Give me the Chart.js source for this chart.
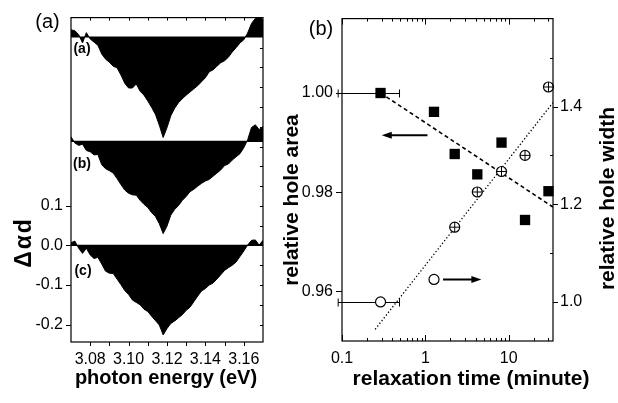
<!DOCTYPE html>
<html>
<head>
<meta charset="utf-8">
<script src="https://cdn.jsdelivr.net/npm/chart.js"></script>
<style>
    html, body { margin: 0; padding: 0; background: #fff; }
    #wrap { position: relative; width: 618px; height: 403px; overflow: hidden; }
    #spectra { position: absolute; left: 0; top: 0; }
    #relax { position: absolute; left: 275px; top: 0; }
</style>
</head>
<body>
<div id="wrap">
    <canvas id="spectra" width="275" height="403"></canvas>
    <canvas id="relax" width="343" height="403"></canvas>
</div>
<script>
// Panel (a): spectral holes, each trace relative to its own baseline.
var energy = [3.070, 3.072, 3.074, 3.076, 3.078, 3.080, 3.082, 3.084, 3.086, 3.088,
    3.090, 3.092, 3.094, 3.096, 3.098, 3.100, 3.102, 3.104, 3.106, 3.108,
    3.110, 3.112, 3.114, 3.116, 3.118, 3.120, 3.122, 3.124, 3.126, 3.128,
    3.130, 3.132, 3.134, 3.136, 3.138, 3.140, 3.142, 3.144, 3.146, 3.148,
    3.150, 3.152, 3.154, 3.156, 3.158, 3.160, 3.162, 3.164, 3.166, 3.168, 3.170];
var holeA = [0.018, 0.016, 0.006, -0.015, 0.011, -0.005, -0.013, -0.021, -0.043, -0.056,
    -0.064, -0.074, -0.078, -0.096, -0.117, -0.129, -0.129, -0.119, -0.137, -0.147,
    -0.162, -0.178, -0.196, -0.223, -0.254, -0.229, -0.199, -0.180, -0.166, -0.156,
    -0.147, -0.139, -0.131, -0.123, -0.113, -0.103, -0.088, -0.083, -0.074, -0.065,
    -0.060, -0.051, -0.038, -0.027, -0.015, -0.007, 0.010, 0.034, 0.047, 0.055, 0.042];
var holeB = [0.012, -0.004, -0.010, -0.007, -0.023, -0.026, -0.034, -0.033, -0.059, -0.069,
    -0.074, -0.080, -0.094, -0.109, -0.123, -0.131, -0.135, -0.136, -0.149, -0.159,
    -0.167, -0.180, -0.190, -0.208, -0.233, -0.214, -0.186, -0.172, -0.162, -0.149,
    -0.139, -0.127, -0.121, -0.113, -0.106, -0.100, -0.096, -0.088, -0.080, -0.072,
    -0.061, -0.057, -0.047, -0.039, -0.031, -0.016, 0.004, 0.035, 0.042, 0.030, 0.038];
var holeC = [0.007, 0.011, -0.007, -0.020, -0.007, -0.024, -0.033, -0.030, -0.047, -0.065,
    -0.070, -0.071, -0.085, -0.099, -0.114, -0.124, -0.138, -0.144, -0.150, -0.161,
    -0.167, -0.179, -0.190, -0.201, -0.226, -0.210, -0.197, -0.191, -0.183, -0.175,
    -0.164, -0.156, -0.142, -0.128, -0.115, -0.109, -0.100, -0.095, -0.085, -0.074,
    -0.063, -0.056, -0.050, -0.042, -0.028, -0.014, 0.001, 0.013, 0.014, 0.001, 0.013];
var traceOffsets = [0.527, 0.263, 0];
var traceNames = ['(a)', '(b)', '(c)'];
var energyLabels = ['3.08', '3.10', '3.12', '3.14', '3.16'];
var energyMinor = [3.08, 3.09, 3.10, 3.11, 3.12, 3.13, 3.14, 3.15, 3.16];
var dadLabels = ['-0.2', '-0.1', '0.0', '0.1'];
var dadMinor = [-0.2, -0.15, -0.1, -0.05, 0, 0.05, 0.1, 0.15, 0.2, 0.25, 0.3, 0.35, 0.4, 0.45, 0.5, 0.55];

// Panel (b): relaxation of hole area (left axis) and hole width (right axis).
var relTime = [0.29, 1.27, 2.25, 4.2, 8.2, 15.7, 30];
var holeArea = [1.000, 0.9962, 0.9877, 0.9836, 0.9900, 0.9744, 0.9802];
var holeWidth = [1.000, 1.046, 1.153, 1.225, 1.267, 1.300, 1.440];
var widthCrossed = [false, false, true, true, true, true, true];
var firstTimeErr = [0.09, 0.49];
var areaFitX = [0.29, 34];
var areaFitY = [1.000, 0.977];
var widthFitX = [0.25, 34];
var widthFitY = [0.944, 1.408];
var timeLabels = ['0.1', '1', '10'];
var timeMinor = [0.2, 0.3, 0.4, 0.5, 0.6, 0.7, 0.8, 0.9, 2, 3, 4, 5, 6, 7, 8, 9, 20, 30];
var areaLabels = ['0.96', '0.98', '1.00'];
var widthLabels = ['1.0', '1.2', '1.4'];
var widthMinor = [1.1, 1.3, 1.5];

var FONT = 'Liberation Sans, Arial, Helvetica, sans-serif';
Chart.defaults.font.family = FONT;
Chart.defaults.color = '#000';

function toValues(labels) {
    return labels.map(function (l) { return {value: parseFloat(l)}; });
}

function points(xs, ys, offset) {
    return xs.map(function (x, i) { return {x: x, y: ys[i] + (offset || 0)}; });
}

// frame round the plot area plus short tick marks, in or out
var frameTicks = {
    id: 'frameTicks',
    afterDraw: function (chart, args, opts) {
        var ctx = chart.ctx, a = chart.chartArea;
        ctx.save();
        ctx.strokeStyle = '#000';
        ctx.lineWidth = 1.2;
        ctx.strokeRect(a.left, a.top, a.right - a.left, a.bottom - a.top);
        ctx.lineWidth = 1;
        opts.marks.forEach(function (m) {
            var scale = chart.scales[m.scale];
            var d = m.out ? m.len : -m.len;
            m.values.forEach(function (v) {
                var p = Math.round(scale.getPixelForValue(v)) + 0.5;
                ctx.beginPath();
                if (m.side === 'bottom') {
                    ctx.moveTo(p, a.bottom); ctx.lineTo(p, a.bottom + d);
                } else if (m.side === 'top') {
                    ctx.moveTo(p, a.top); ctx.lineTo(p, a.top - d);
                } else if (m.side === 'left') {
                    ctx.moveTo(a.left, p); ctx.lineTo(a.left - d, p);
                } else {
                    ctx.moveTo(a.right, p); ctx.lineTo(a.right + d, p);
                }
                ctx.stroke();
            });
        });
        ctx.restore();
    }
};

// titles and labels placed where the figure has them
var texts = {
    id: 'texts',
    afterDraw: function (chart, args, opts) {
        var ctx = chart.ctx;
        opts.items.forEach(function (t) {
            ctx.save();
            ctx.fillStyle = '#000';
            ctx.font = t.font;
            ctx.textAlign = 'center';
            ctx.textBaseline = 'middle';
            if (t.spacing) {
                ctx.letterSpacing = t.spacing;
            }
            ctx.translate(t.x, t.y);
            if (t.rotate) {
                ctx.rotate(-Math.PI / 2);
            }
            ctx.fillText(t.text, 0, 0);
            ctx.restore();
        });
    }
};

// horizontal error bars (drawn under the markers)
var errorBars = {
    id: 'errorBars',
    beforeDatasetsDraw: function (chart, args, opts) {
        var ctx = chart.ctx, xs = chart.scales.x;
        ctx.save();
        ctx.strokeStyle = '#000';
        ctx.lineWidth = 1;
        opts.bars.forEach(function (b) {
            var y = Math.round(chart.scales[b.scale].getPixelForValue(b.y)) + 0.5;
            var x1 = xs.getPixelForValue(b.range[0]), x2 = xs.getPixelForValue(b.range[1]);
            ctx.beginPath();
            ctx.moveTo(x1, y); ctx.lineTo(x2, y);
            ctx.moveTo(x1, y - 4); ctx.lineTo(x1, y + 4);
            ctx.moveTo(x2, y - 4); ctx.lineTo(x2, y + 4);
            ctx.stroke();
        });
        ctx.restore();
    }
};

var arrows = {
    id: 'arrows',
    afterDatasetsDraw: function (chart, args, opts) {
        var ctx = chart.ctx, xs = chart.scales.x;
        ctx.save();
        ctx.strokeStyle = '#000';
        ctx.fillStyle = '#000';
        ctx.lineWidth = 2;
        opts.items.forEach(function (ar) {
            var ys = chart.scales[ar.scale];
            var x1 = xs.getPixelForValue(ar.from[0]), y1 = ys.getPixelForValue(ar.from[1]);
            var x2 = xs.getPixelForValue(ar.to[0]), y2 = ys.getPixelForValue(ar.to[1]);
            var dir = x2 > x1 ? 1 : -1;
            ctx.beginPath();
            ctx.moveTo(x1, y1); ctx.lineTo(x2 - dir * 6, y2);
            ctx.stroke();
            ctx.beginPath();
            ctx.moveTo(x2, y2);
            ctx.lineTo(x2 - dir * 10, y2 - 3.5);
            ctx.lineTo(x2 - dir * 10, y2 + 3.5);
            ctx.closePath();
            ctx.fill();
        });
        ctx.restore();
    }
};

var hidden = {display: false, drawTicks: false};
var noBorder = {display: false};

function traceSet(vals, i) {
    return {
        data: points(energy, vals, traceOffsets[i]),
        borderColor: '#000',
        backgroundColor: '#000',
        borderWidth: 1,
        pointRadius: 0,
        tension: 0,
        fill: {value: traceOffsets[i]}
    };
}

function baseSet(i) {
    return {
        data: points([energy[0], energy[energy.length - 1]], [traceOffsets[i], traceOffsets[i]]),
        borderColor: '#000',
        borderWidth: 1.2,
        pointRadius: 0,
        fill: false
    };
}

new Chart(document.getElementById('spectra'), {
    type: 'line',
    data: {
        datasets: [
            baseSet(0), baseSet(1), baseSet(2),
            traceSet(holeA, 0), traceSet(holeB, 1), traceSet(holeC, 2)
        ]
    },
    plugins: [frameTicks, texts],
    options: {
        responsive: false,
        animation: false,
        events: [],
        layout: {padding: {top: 7, right: 12, bottom: 0, left: 0}},
        plugins: {
            legend: {display: false},
            tooltip: {enabled: false},
            frameTicks: {marks: [
                {scale: 'x', side: 'bottom', values: energyMinor, len: 4, out: true},
                {scale: 'x', side: 'top', values: energyMinor, len: 3, out: false},
                {scale: 'y', side: 'left', values: dadLabels.map(parseFloat), len: 5, out: true},
                {scale: 'y', side: 'right', values: dadMinor, len: 3, out: false}
            ]},
            texts: {items: [
                {text: '(a)', x: 47.5, y: 22.5, font: '20px ' + FONT},
                {text: 'Δαd', x: 24.5, y: 242.5, font: 'bold 23px ' + FONT, rotate: true, spacing: '2px'},
                {text: 'photon energy (eV)', x: 166, y: 378, font: 'bold 20px ' + FONT},
                {text: traceNames[0], x: 82, y: 49, font: 'bold 14px ' + FONT},
                {text: traceNames[1], x: 82, y: 164, font: 'bold 14px ' + FONT},
                {text: traceNames[2], x: 83, y: 271, font: 'bold 14px ' + FONT}
            ]}
        },
        scales: {
            x: {
                type: 'linear',
                min: 3.07,
                max: 3.17,
                grid: hidden,
                border: noBorder,
                afterBuildTicks: function (s) { s.ticks = toValues(energyLabels); },
                afterFit: function (s) { s.height = 61; },
                ticks: {
                    padding: 8,
                    maxRotation: 0,
                    autoSkip: false,
                    font: {size: 16},
                    callback: function (v, i) { return energyLabels[i]; }
                }
            },
            y: {
                min: -0.244,
                max: 0.576,
                grid: hidden,
                border: noBorder,
                afterBuildTicks: function (s) { s.ticks = toValues(dadLabels); },
                afterFit: function (s) { s.width = 71; },
                ticks: {
                    padding: 8,
                    font: {size: 16},
                    callback: function (v, i) { return dadLabels[i]; }
                }
            }
        }
    }
});

new Chart(document.getElementById('relax'), {
    type: 'scatter',
    data: {
        datasets: [
            {
                // plus sign inside the width circles (the ⊕ marks)
                data: points(relTime, holeWidth),
                yAxisID: 'y2',
                pointStyle: 'cross',
                pointRadius: widthCrossed.map(function (c) { return c ? 5 : 0; }),
                pointBorderWidth: 1,
                borderColor: '#000',
                clip: false
            },
            {
                data: points(relTime, holeArea),
                yAxisID: 'y',
                pointStyle: 'rect',
                pointRadius: 7.3,
                pointBorderWidth: 0,
                backgroundColor: '#000',
                borderColor: '#000',
                clip: false
            },
            {
                data: points(relTime, holeWidth),
                yAxisID: 'y2',
                pointStyle: 'circle',
                pointRadius: 5,
                pointBorderWidth: 1.2,
                backgroundColor: '#fff',
                borderColor: '#000',
                clip: false
            },
            {
                data: points(areaFitX, areaFitY),
                yAxisID: 'y',
                showLine: true,
                pointRadius: 0,
                borderColor: '#000',
                borderWidth: 1.6,
                borderDash: [4, 3]
            },
            {
                data: points(widthFitX, widthFitY),
                yAxisID: 'y2',
                showLine: true,
                pointRadius: 0,
                borderColor: '#000',
                borderWidth: 1.3,
                borderDash: [1.3, 2.2]
            }
        ]
    },
    plugins: [frameTicks, texts, errorBars, arrows],
    options: {
        responsive: false,
        animation: false,
        events: [],
        layout: {padding: {top: 15, right: 0, bottom: 0, left: 0}},
        plugins: {
            legend: {display: false},
            tooltip: {enabled: false},
            frameTicks: {marks: [
                {scale: 'x', side: 'bottom', values: timeLabels.map(parseFloat), len: 6, out: false},
                {scale: 'x', side: 'bottom', values: timeMinor, len: 3, out: false},
                {scale: 'x', side: 'top', values: timeLabels.map(parseFloat), len: 6, out: false},
                {scale: 'x', side: 'top', values: timeMinor, len: 3, out: false},
                {scale: 'y', side: 'left', values: areaLabels.map(parseFloat), len: 6, out: true},
                {scale: 'y2', side: 'right', values: widthLabels.map(parseFloat), len: 5, out: true},
                {scale: 'y2', side: 'right', values: widthMinor, len: 3, out: false}
            ]},
            errorBars: {bars: [
                {scale: 'y', y: holeArea[0], range: firstTimeErr},
                {scale: 'y2', y: holeWidth[0], range: firstTimeErr}
            ]},
            arrows: {items: [
                {scale: 'y', from: [1.06, 0.9915], to: [0.30, 0.9915]},
                {scale: 'y2', from: [1.63, 1.046], to: [4.7, 1.046]}
            ]},
            texts: {items: [
                {text: '(b)', x: 46, y: 29.5, font: '20px ' + FONT},
                {text: 'relative hole area', x: 17, y: 200, font: 'bold 21px ' + FONT, rotate: true},
                {text: 'relative hole width', x: 333.5, y: 198.5, font: 'bold 21px ' + FONT, rotate: true},
                {text: 'relaxation time (minute)', x: 196, y: 379, font: 'bold 21px ' + FONT}
            ]}
        },
        scales: {
            x: {
                type: 'logarithmic',
                min: 0.1,
                max: 34,
                grid: hidden,
                border: noBorder,
                afterBuildTicks: function (s) { s.ticks = toValues(timeLabels); },
                afterFit: function (s) { s.height = 62; },
                ticks: {
                    padding: 8,
                    maxRotation: 0,
                    autoSkip: false,
                    font: {size: 16},
                    callback: function (v, i) { return timeLabels[i]; }
                }
            },
            y: {
                position: 'left',
                min: 0.95,
                max: 1.015,
                grid: hidden,
                border: noBorder,
                afterBuildTicks: function (s) { s.ticks = toValues(areaLabels); },
                afterFit: function (s) { s.width = 67; },
                ticks: {
                    padding: 9,
                    font: {size: 16},
                    callback: function (v, i) { return areaLabels[i]; }
                }
            },
            y2: {
                position: 'right',
                min: 0.92,
                max: 1.58,
                grid: hidden,
                border: noBorder,
                afterBuildTicks: function (s) { s.ticks = toValues(widthLabels); },
                afterFit: function (s) { s.width = 65; },
                ticks: {
                    padding: 7,
                    font: {size: 16},
                    callback: function (v, i) { return widthLabels[i]; }
                }
            }
        }
    }
});
</script>
</body>
</html>
